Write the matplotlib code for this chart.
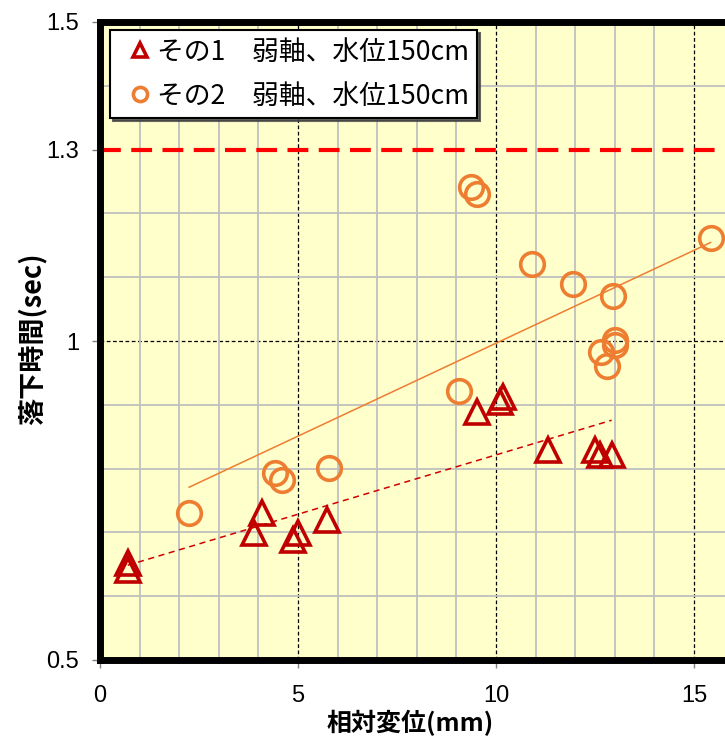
import numpy as np
import matplotlib
matplotlib.use("Agg")
import matplotlib.pyplot as plt

plt.rcParams['font.family'] = ['Noto Sans CJK JP', 'DejaVu Sans']

# data
x1 = [0.70, 0.70, 3.90, 4.08, 4.88, 5.01, 5.74, 9.51, 10.10, 10.17, 11.32, 12.50, 12.63, 12.92]
y1 = [0.652, 0.641, 0.699, 0.730, 0.688, 0.699, 0.719, 0.889, 0.905, 0.912, 0.829, 0.829, 0.821, 0.821]
x2 = [2.25, 4.42, 4.60, 5.78, 9.07, 9.38, 9.53, 10.92, 11.95, 12.65, 12.81, 12.96, 13.00, 13.00, 15.42]
y2 = [0.730, 0.793, 0.782, 0.801, 0.921, 1.242, 1.231, 1.121, 1.090, 0.982, 0.961, 1.071, 1.002, 0.994, 1.161]
labels = ['その1　弱軸、水位150cm', 'その2　弱軸、水位150cm']
limit_line = 1.3
yticks = [0.5, 1.0, 1.3, 1.5]
yticklabels = ['0.5', '1', '1.3', '1.5']
xticks = [0, 5, 10, 15]

red = '#C00000'
orange = '#ED7D31'

fig = plt.figure(figsize=(7.25, 7.44), dpi=100)
ax = fig.add_axes([100 / 725, (744 - 660) / 744, 792 / 725, 638 / 744])
ax.set_facecolor('#FFFFCC')
ax.set_xlim(0, 20)
ax.set_ylim(0.5, 1.5)

# grid
ax.set_xticks(np.arange(0, 21, 1), minor=True)
ax.set_yticks(np.arange(0.5, 1.51, 0.1), minor=True)
ax.grid(which='minor', color='#C0C0C0', lw=1.3, zorder=0)
for xv in [5, 10, 15]:
    ax.axvline(xv, color='black', lw=0.9, ls=(0, (3, 2)), zorder=1)
ax.axhline(1.0, color='black', lw=0.9, ls=(0, (3, 2)), zorder=1)
ax.tick_params(which='minor', length=0)

# limit line
ax.axhline(limit_line, color='#FF0000', lw=3, ls=(0, (5, 2.5)), zorder=2)

# trend lines
for xs, ys, c, ls in [(x1, y1, '#D00000', (0, (4, 3))), (x2, y2, orange, '-')]:
    k, b = np.polyfit(xs, ys, 1)
    xx = np.array([min(xs), max(xs)])
    ax.plot(xx, k * xx + b, color=c, lw=1.1, ls=ls, zorder=3)

ax.plot(x1, y1, ls='none', marker='^', ms=17, mfc='none', mec=red, mew=2.6,
        label=labels[0], zorder=4)
ax.plot(x2, y2, ls='none', marker='o', ms=17, mfc='none', mec=orange, mew=2.6,
        label=labels[1], zorder=4)

# ticks
ax.set_xticks(xticks)
ax.set_xticklabels([str(v) for v in xticks], fontsize=17, family='Liberation Sans')
ax.set_yticks(yticks)
ax.set_yticklabels(yticklabels, fontsize=17, family='Liberation Sans')
ax.tick_params(which='major', length=6, color='#808080', width=1, pad=9)
ax.tick_params(axis='x', pad=12)

for s in ax.spines.values():
    s.set_linewidth(5)
    s.set_color('black')

ax.set_xlabel('相対変位(mm)', fontsize=18, fontweight='bold')
ax.xaxis.set_label_coords(310 / 792, -0.078)
ax.set_ylabel('落下時間(sec)', fontsize=19.5, fontweight='bold')
ax.yaxis.set_label_coords(-0.068, 0.503)

leg = ax.legend(loc='upper left', bbox_to_anchor=(10 / 792, 1 - 8 / 638),
                borderaxespad=0, fontsize=19.3, markerscale=0.6, handletextpad=-0.18,
                handlelength=1.6, borderpad=0.32, labelspacing=0.64,
                fancybox=False, shadow={'color': '#404040', 'alpha': 0.8},
                framealpha=1, edgecolor='black')
leg.get_frame().set_linewidth(1.5)
leg.set_zorder(10)

fig.savefig('out.png', dpi=100)
